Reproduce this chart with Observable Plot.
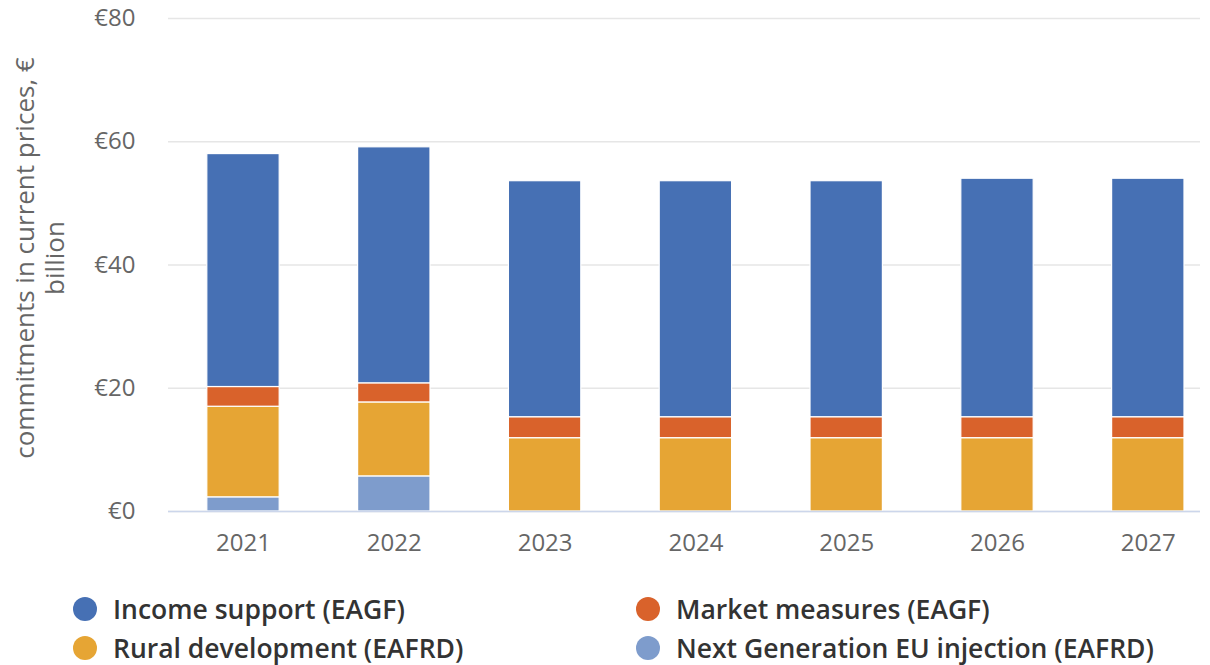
<!DOCTYPE html>
<html>
<head>
<meta charset="utf-8">
<script src="https://cdn.jsdelivr.net/npm/d3@7"></script>
<script src="https://cdn.jsdelivr.net/npm/@observablehq/plot@0.6"></script>
<style>
  html, body { margin: 0; padding: 0; background: #fff; }
  #wrap { position: relative; width: 1210px; height: 665px; }
  #legend { position: absolute; left: 73px; top: 591px; display: grid; grid-template-columns: 563px 540px; row-gap: 4px; font-family: "Open Sans", sans-serif; font-weight: 600; font-size: 26.5px; color: #333; }
  .item { display: flex; align-items: center; height: 35px; white-space: nowrap; }
  .dot { width: 24px; height: 24px; border-radius: 50%; margin-right: 16px; flex: none; }
</style>
</head>
<body>
<div id="wrap">
  <div id="chart"></div>
  <div id="legend"></div>
</div>
<script>
const years = ["2021", "2022", "2023", "2024", "2025", "2026", "2027"];
const seriesNames = ["Income support (EAGF)", "Market measures (EAGF)", "Rural development (EAFRD)", "Next Generation EU injection (EAFRD)"];
const seriesColors = ["#4670b4", "#d9622b", "#e6a534", "#7e9ccc"];
// values in € billion
const incomeSupport = [37.8, 38.3, 38.3, 38.3, 38.3, 38.7, 38.7];
const marketMeasures = [3.2, 3.1, 3.4, 3.4, 3.4, 3.4, 3.4];
const ruralDevelopment = [14.7, 12.0, 11.9, 11.9, 11.9, 11.9, 11.9];
const nextGenEU = [2.3, 5.7, 0, 0, 0, 0, 0];
const yTicks = [0, 20, 40, 60, 80];

// stack order bottom -> top
const stackOrder = [
  [seriesNames[3], nextGenEU],
  [seriesNames[2], ruralDevelopment],
  [seriesNames[1], marketMeasures],
  [seriesNames[0], incomeSupport]
];
const data = [];
stackOrder.forEach(([name, vals]) => {
  years.forEach((yr, i) => data.push({year: yr, series: name, value: vals[i]}));
});

const W = 1210, H = 580;
const chart = Plot.plot({
  width: W,
  height: H,
  marginLeft: 168,
  marginRight: 10,
  marginTop: 18,
  marginBottom: 69,
  style: { fontFamily: "'Open Sans', sans-serif", background: "#fff", overflow: "visible" },
  x: { domain: years, range: [167.6, 1223.2], paddingInner: 0.52, paddingOuter: 0.26, round: false, label: null },
  y: { domain: [0, 80], ticks: yTicks, label: null },
  color: { domain: seriesNames, range: seriesColors },
  marks: [
    Plot.gridY(yTicks, { stroke: "#e6e6e6", strokeOpacity: 1, strokeWidth: 1.5 }),
    Plot.axisY(yTicks, { tickSize: 0, tickPadding: 33, tickFormat: d => "€" + d, fontSize: 24, fill: "#666", label: null }),
    Plot.axisX({ tickSize: 0, tickPadding: 22, fontSize: 24, fill: "#666", label: null }),
    Plot.barY(data, Plot.stackY({ order: seriesNames.slice().reverse(), x: "year", y: "value", fill: "series", stroke: "white", strokeWidth: 1.2 })),
    Plot.ruleY([0], { stroke: "#ccd6eb", strokeWidth: 1.5 })
  ]
});
document.getElementById("chart").appendChild(chart);

// Y axis title (two lines, rotated)
const svg = d3.select(chart);
const cy = 258;
const t = svg.append("text")
  .attr("transform", `translate(0,${cy}) rotate(-90)`)
  .attr("text-anchor", "middle")
  .attr("fill", "#666")
  .attr("font-size", 26)
  .attr("font-family", "'Open Sans', sans-serif");
t.append("tspan").attr("x", 0).attr("y", 34).text("commitments in current prices, €");
t.append("tspan").attr("x", 0).attr("y", 64).text("billion");

// Legend
const legend = document.getElementById("legend");
[0, 1, 2, 3].forEach(i => {
  const it = document.createElement("div");
  it.className = "item";
  const dot = document.createElement("span");
  dot.className = "dot";
  dot.style.background = seriesColors[i];
  const lab = document.createElement("span");
  lab.textContent = seriesNames[i];
  it.appendChild(dot);
  it.appendChild(lab);
  legend.appendChild(it);
});
</script>
</body>
</html>
